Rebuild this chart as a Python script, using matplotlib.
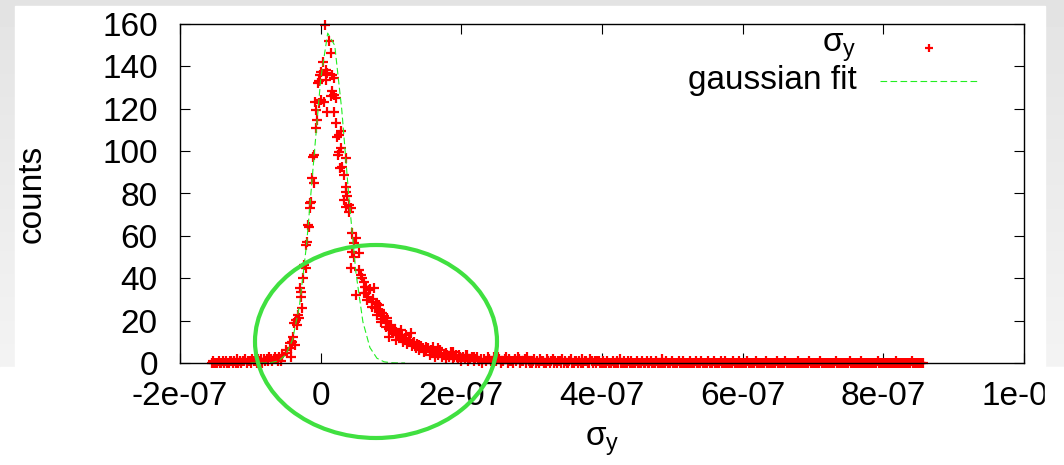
import numpy as np
import matplotlib
matplotlib.use('Agg')
import matplotlib.pyplot as plt
from matplotlib.patches import Ellipse, Rectangle

plt.rcParams['font.family'] = ['Liberation Sans', 'DejaVu Sans']
plt.rcParams['mathtext.default'] = 'regular'

# x values below are in units of 1e-9
XSCALE = 1e-9

# left tail of the histogram (counts per bin, -155 .. -57)
left_tail = "01000100101001101020101120110211021202121321232131"

# peak and flanks, read point by point
core_x = [-54.5, -49.6, -47.4, -44.0, -42.5, -41.5, -40.3, -39.0, -37.9, -36.5,
          -35.4, -33.2, -32.0, -30.8, -29.5, -28.4, -27.5, -26.1, -24.7, -23.7,
          -21.3, -20.4, -19.5, -17.6, -16.6, -15.5, -14.5, -13.5, -12.0, -11.0,
          -10.0, -9.5, -7.5, -6.5, -6.0, -4.8, -4.0, -2.4, -2.4, -1.5,
          0.0, 0.4, 3.7, 4.7, 6.1, 7.1, 7.1, 8.9, 9.4, 11.8,
          14.2, 14.2, 16.4, 16.4, 18.9, 18.9, 18.9, 21.3, 21.3, 23.5,
          24.5, 25.9, 25.9, 27.0, 28.4, 28.4, 29.8, 33.0, 33.0, 35.5,
          35.5, 35.5, 35.5, 37.7, 40.1, 40.1, 42.5, 42.5, 44.9, 44.9,
          47.2, 47.2, 49.6, 49.6, 54.4, 54.4, 56.8, 59.2, 61.5, 61.5,
          63.9, 66.2, 68.6, 73.3, 75.7, 78.1, 80.5, 82.8, 85.2, 87.6,
          92.3, 94.7, 97.1, 99.4, 106.5, 106.5, 113.6, 116.9, 120.7, 127.8,
          131.0, 140.5, 150.0, 159.4, 166.5, 178.4, 187.8, 197.3, 206.8, 218.6]
core_y = [3.8, 6.1, 4.6, 9.3, 3.0, 6.9, 10.1, 12.4, 18.8, 8.5,
          20.3, 17.9, 22.7, 21.1, 35.3, 31.3, 33.7, 25.8, 40.0, 46.3,
          44.7, 55.7, 57.3, 65.2, 64.4, 73.1, 75.4, 76.2, 87.2, 97.4,
          84.9, 98.3, 123.4, 110.9, 119.5, 114.8, 132.0, 122.7, 133.0, 136.0,
          124.2, 137.5, 142.3, 123.4, 159.3, 133.7, 138.4, 137.0, 118.7, 152.2,
          146.3, 125.8, 136.0, 128.2, 134.6, 126.6, 118.7, 125.0, 113.2, 106.9,
          98.3, 107.7, 99.8, 92.0, 109.3, 101.4, 92.7, 88.8, 77.0, 96.7,
          83.3, 80.9, 73.8, 78.6, 74.6, 71.5, 73.1, 44.7, 61.3, 52.6,
          56.5, 50.2, 58.9, 32.1, 51.8, 43.9, 41.6, 40.0, 38.4, 32.9,
          36.0, 29.8, 34.5, 26.6, 35.3, 28.2, 22.7, 27.4, 19.5, 23.5,
          17.1, 21.1, 12.4, 15.6, 14.8, 10.9, 15.6, 10.1, 13.2, 14.0,
          9.3, 8.5, 7.7, 7.7, 6.9, 4.6, 5.3, 3.8, 3.8, 3.0]

# dense shoulder on the right side (62.5 .. 237.5)
shoulder_y = [36, 33, 31, 35, 29, 30, 26, 28, 24, 25, 21, 22, 19, 20, 16, 18,
              15, 16, 13, 14, 12, 13, 11, 12, 9, 11, 10, 8, 10, 7, 9, 6, 8, 7,
              5, 6, 7, 4, 6, 5, 3, 5, 4, 6, 3, 4, 2, 4, 3, 5, 2, 3, 4, 2, 3, 1,
              3, 2, 4, 1, 2, 3, 1, 2, 3, 1, 2, 0, 2, 1, 3]

# right tail (counts per bin, 240 .. 856)
right_tail = ("210321320112302110213201120310"
              "01201021100210120101102010012001101020110021010110"
              "0100100010010200100101000100010010010001000200100010000100100001000100010000100010000100100000100010"
              "0000100000100000010000000100000100000000100000001000000010000000000100000000010000000100000000000100000000000010000000000100000000")

# gaussian fit curve
fit_x = [-100, -90, -80, -70, -60, -50, -40, -30, -20, -10, 0, 10,
         20, 30, 40, 50, 60, 70, 80, 90, 100, 110, 120]
fit_y = [0.0, 0.0, 0.04, 0.23, 1.0, 3.7, 11.0, 27.4, 56.1, 95.2, 133.8, 155.7,
         149.9, 119.5, 78.8, 43.0, 19.5, 7.3, 2.25, 0.58, 0.12, 0.02, 0.0]

xticks = [-2e-7, 0, 2e-7, 4e-7, 6e-7, 8e-7, 1e-6]
xtick_labels = ['-2e-07', '0', '2e-07', '4e-07', '6e-07', '8e-07', '1e-06']
yticks = [0, 20, 40, 60, 80, 100, 120, 140, 160]

# assemble the scatter series
lt = np.array([int(c) for c in left_tail])
rt = np.array([int(c) for c in right_tail])
sx = np.linspace(62.5, 237.5, len(shoulder_y))
pts_x = np.concatenate([np.linspace(-155, -57, len(lt)), core_x, sx,
                        np.linspace(240, 856, len(rt))]) * XSCALE
pts_y = np.concatenate([lt, core_y, shoulder_y, rt])

W, H = 1064, 465
fig = plt.figure(figsize=(W / 100, H / 100), dpi=100)

# grey slide background with white panel
bg = fig.add_axes([0, 0, 1, 1], zorder=-10)
bg.set_axis_off()
grad = np.linspace(0.89, 0.97, 100)[:, None]
bg.imshow(grad, cmap='gray', vmin=0, vmax=1, aspect='auto', extent=[0, 1, 0, 1])
bg.add_patch(Rectangle((15 / W, 0), (1045 - 15) / W, 1 - 6 / H, color='white'))
bg.add_patch(Rectangle((0, 0), 1, (H - 367) / H, color='white'))
bg.set_xlim(0, 1)
bg.set_ylim(0, 1)

ax = fig.add_axes([180 / W, 1 - 363 / H, 844 / W, 339 / H])
ax.plot(pts_x, pts_y, ls='none', marker='+', color='red', ms=7, mew=1.6,
        clip_on=False)
ax.plot(np.array(fit_x) * XSCALE, fit_y, color='#22ee22', lw=0.8, dashes=(6, 3))

ax.set_xlim(-2e-7, 1e-6)
ax.set_ylim(0, 160)
ax.set_xticks(xticks)
ax.set_xticklabels(xtick_labels)
ax.set_yticks(yticks)
ax.tick_params(direction='in', length=7, width=0.8, top=True, right=True,
               labelsize=24)
ax.tick_params(axis='x', pad=13)
ax.tick_params(axis='y', pad=16)
for s in ax.spines.values():
    s.set_linewidth(1.0)

ax.set_xlabel('σ$_y$', fontsize=24, labelpad=10)
ax.set_ylabel('counts', fontsize=24, labelpad=39)

# gnuplot style key: text right-aligned, sample on the right
ax.text(0.802, 0.929, 'σ$_y$', transform=ax.transAxes, ha='right', va='center',
        fontsize=24)
ax.plot([0.887], [0.929], ls='none', marker='+', color='red', ms=6, mew=1.6,
        transform=ax.transAxes)
ax.text(0.802, 0.832, 'gaussian fit', transform=ax.transAxes, ha='right',
        va='center', fontsize=24)
ax.plot([0.829, 0.948], [0.832, 0.832], color='#22ee22', lw=0.8, dashes=(6, 3),
        transform=ax.transAxes)

# hand-drawn highlight ellipse
fig.add_artist(Ellipse((376 / W, 1 - 341.5 / H), 242 / W, 193 / H,
                       transform=fig.transFigure, fill=False, ec='#40e040',
                       lw=3, zorder=5))
# the last tick label is cut off at the edge of the pasted image
fig.add_artist(Rectangle((1045 / W, 0), (W - 1045) / W, (H - 367) / H,
                         transform=fig.transFigure, color='white', zorder=6))

fig.savefig('out.png', dpi=100)
